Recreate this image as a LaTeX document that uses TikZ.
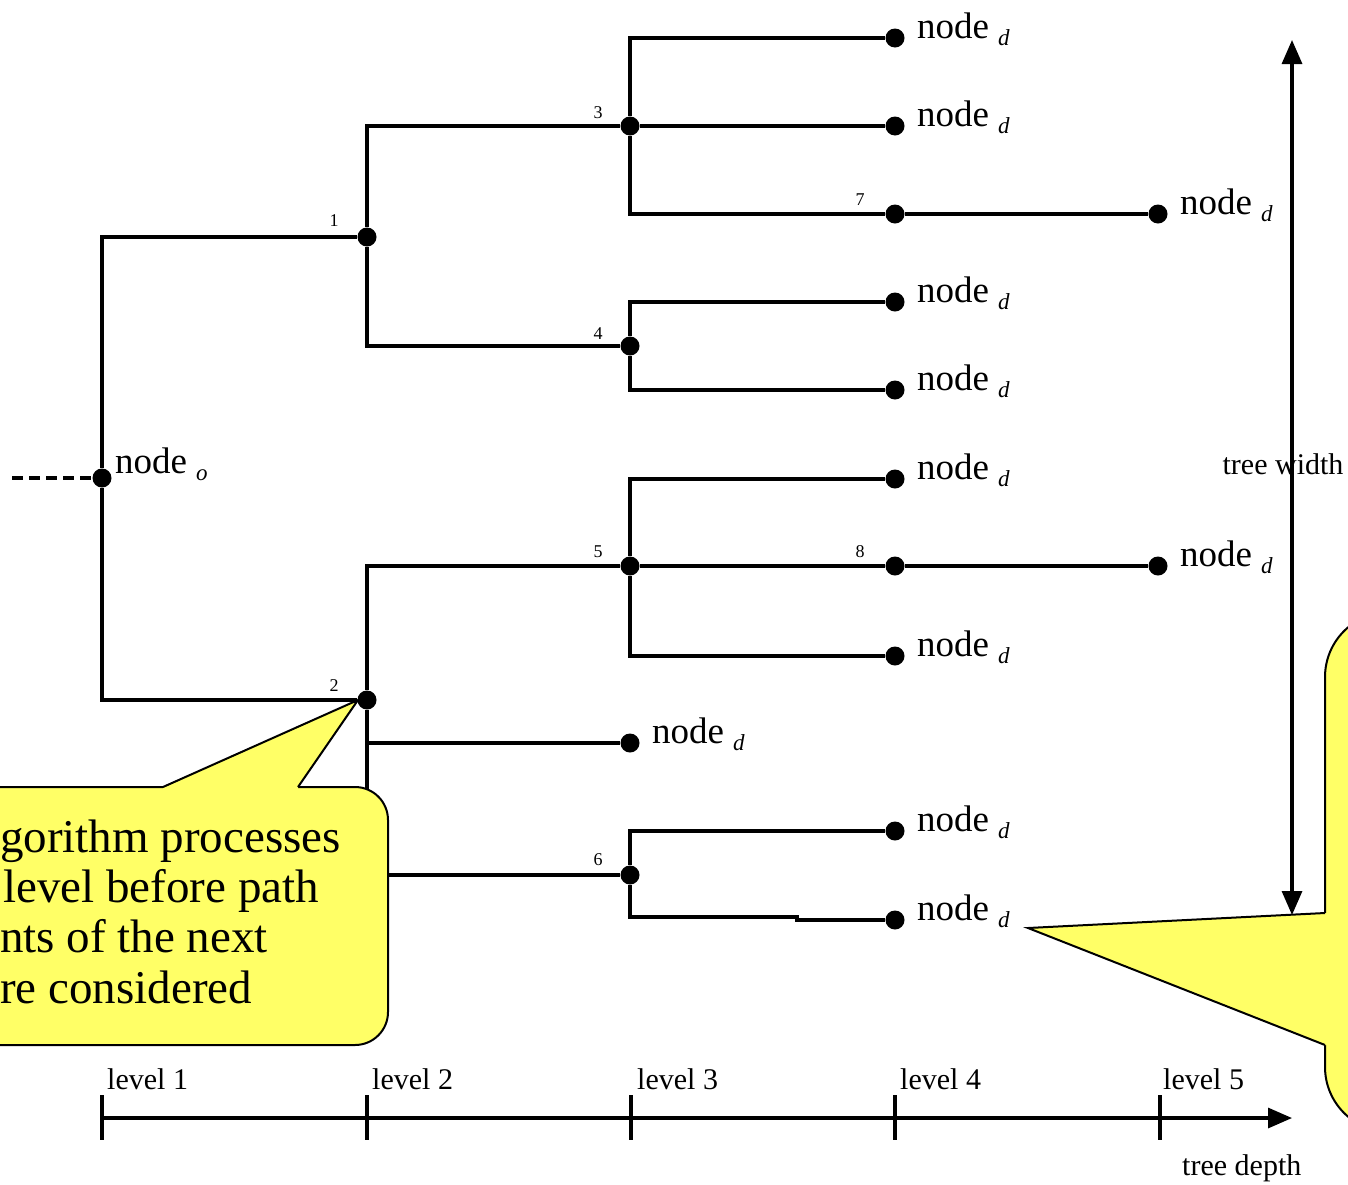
\documentclass[tikz,border=0pt]{standalone}
\usepackage{fontspec}
\setmainfont{Liberation Serif}
\usetikzlibrary{arrows.meta}
\definecolor{noteyellow}{RGB}{255,255,102}
\pgfdeclarelayer{edges}
\pgfdeclarelayer{notes}
\pgfsetlayers{edges,notes,main}
% subscript placed after the word "node"
\newcommand{\lsub}[1]{\hspace{9pt}\raisebox{-7pt}{\fontsize{23}{23}\selectfont\itshape #1}}
\begin{document}
\begin{tikzpicture}[x=1pt,y=-1pt,
  dot/.style={circle,fill=black,inner sep=0pt,minimum size=19pt},
  link/.style={line width=3.2pt},
  num/.style={font=\fontsize{18}{18}\selectfont,inner sep=0pt},
  leaflab/.style={anchor=base west,inner sep=0pt,font=\fontsize{37}{40}\selectfont},
  levlab/.style={anchor=base west,inner sep=0pt,font=\fontsize{30}{32}\selectfont},
  notetext/.style={anchor=base west,inner sep=0pt,font=\fontsize{47}{50}\selectfont},
  note/.style={fill=noteyellow,draw=black,line width=2pt},
  tip/.style={-{Triangle[length=24pt,width=20pt]}}]
\useasboundingbox (0,0) rectangle (1348,1184);

% tree vertices
\node[dot] (root) at (102,478) {};
\node[dot] (n1) at (367,237) {};
\node[dot] (n2) at (367,700) {};
\node[dot] (n3) at (630,126) {};
\node[dot] (n4) at (630,346) {};
\node[dot] (n5) at (630,566) {};
\node[dot] (n6) at (630,875) {};
\node[dot] (n7) at (895,214) {};
\node[dot] (n8) at (895,566) {};
\node[dot] (a1) at (895,38) {};
\node[dot] (a2) at (895,126) {};
\node[dot] (a3) at (1158,214) {};
\node[dot] (a4) at (895,302) {};
\node[dot] (a5) at (895,390) {};
\node[dot] (a6) at (895,479) {};
\node[dot] (a7) at (1158,566) {};
\node[dot] (a8) at (895,656) {};
\node[dot] (a9) at (630,743) {};
\node[dot] (a10) at (895,831) {};
\node[dot] (a11) at (895,920) {};
\coordinate (entry) at (12,478);

% vertex numbers
\node[num] (k1) at ([shift={(-33,-16)}]n1.center) {1};
\node[num] (k2) at ([shift={(-33,-14)}]n2.center) {2};
\node[num] (k3) at ([shift={(-32,-13)}]n3.center) {3};
\node[num] (k4) at ([shift={(-32,-12)}]n4.center) {4};
\node[num] (k5) at ([shift={(-32,-14)}]n5.center) {5};
\node[num] (k6) at ([shift={(-32,-15)}]n6.center) {6};
\node[num] (k7) at ([shift={(-35,-14)}]n7.center) {7};
\node[num] (k8) at ([shift={(-35,-14)}]n8.center) {8};

% vertex captions
\node[leaflab] (troot) at (115,473) {node\lsub{o}};
\foreach \v in {a1,a2,a3,a4,a5,a6,a7,a8,a9,a10,a11}
  \node[leaflab] (t\v) at ([xshift=22pt]\v.center) {node\lsub{d}};

% connectors
\begin{pgfonlayer}{edges}
\draw[link,dash pattern=on 11pt off 6pt] (entry) -- (root);
\draw[link] (root) |- (n1);
\draw[link] (root) |- (n2);
\draw[link] (n1) |- (n3);
\draw[link] (n1) |- (n4);
\draw[link] (n2) |- (n5);
\draw[link] (n2) |- (a9);
\draw[link] (n2) |- (n6);
\draw[link] (n3) |- (a1);
\draw[link] (n3) -- (a2);
\draw[link] (n3) |- (n7);
\draw[link] (n7) -- (a3);
\draw[link] (n4) |- (a4);
\draw[link] (n4) |- (a5);
\draw[link] (n5) |- (a6);
\draw[link] (n5) -- (n8);
\draw[link] (n8) -- (a7);
\draw[link] (n5) |- (a8);
\draw[link] (n6) |- (a10);
\draw[link] (n6) |- (797,917) |- (a11);
\end{pgfonlayer}

% tree width
\node[levlab,anchor=base] (tw) at (1283,474) {tree width};
\coordinate (wtop) at (1292,40);
\coordinate (wbot) at (1292,915);
\draw[link,{Triangle[length=24pt,width=20pt]}-{Triangle[length=24pt,width=20pt]}] (wtop) -- (wbot);

% depth axis
\coordinate (ax0) at (102,1118);
\coordinate (axend) at (1292,1118);
\draw[link,tip] (ax0) -- (axend);
\foreach \x in {102,367,631,895,1160}
  \draw[link] (\x,1095) -- (\x,1140);
\node[levlab] (lv1) at (107,1089) {level 1};
\node[levlab] (lv2) at (372,1089) {level 2};
\node[levlab] (lv3) at (637,1089) {level 3};
\node[levlab] (lv4) at (900,1089) {level 4};
\node[levlab] (lv5) at (1163,1089) {level 5};
\node[levlab] (td) at (1182,1175) {tree depth};

% callouts
\begin{pgfonlayer}{notes}
\draw[note,rounded corners=33pt] (-60,787) rectangle (388,1045);
\fill[noteyellow] (163,787) -- (358,700) -- (298,787) -- (298,791) -- (163,791) -- cycle;
\draw[line width=2pt,line join=miter] (163,787) -- (358,700) -- (298,787);

\draw[note,rounded corners=65pt] (1325,612) rectangle (1480,1132);
\fill[noteyellow] (1325,913) -- (1028,928) -- (1325,1045) -- (1329,1045) -- (1329,913) -- cycle;
\draw[line width=2pt,line join=miter] (1325,913) -- (1028,928) -- (1325,1045);
\end{pgfonlayer}
\node[notetext] (c1) at (0,852) {gorithm processes};
\node[notetext] (c2) at (3,902) {level before path};
\node[notetext] (c3) at (0,952) {nts of the next};
\node[notetext] (c4) at (0,1003) {re considered};
\end{tikzpicture}
\end{document}
